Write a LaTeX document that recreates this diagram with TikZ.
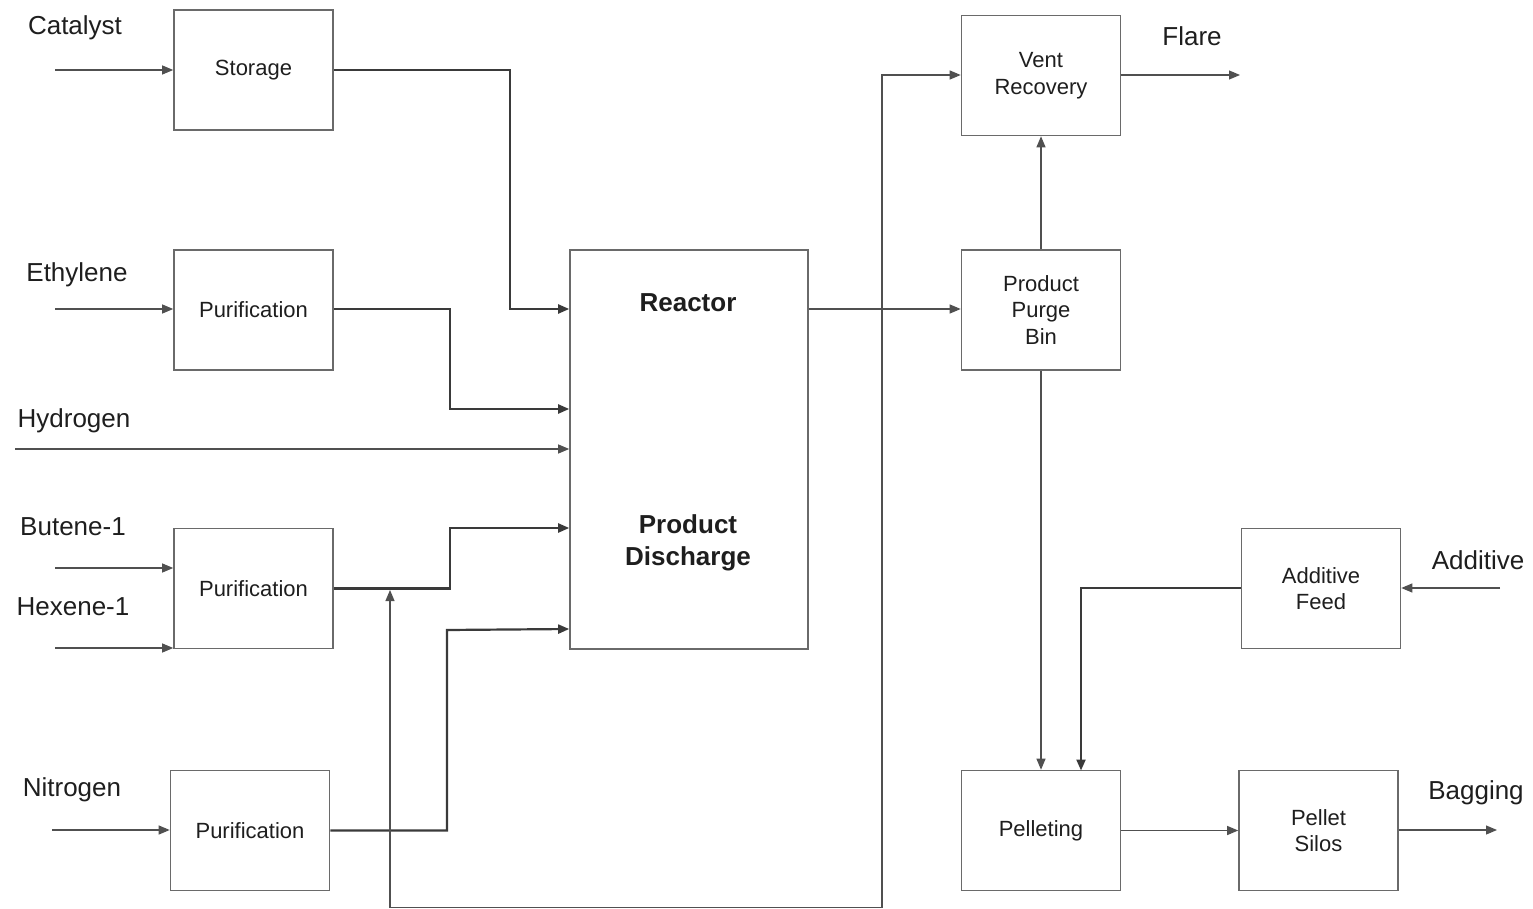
\documentclass[tikz,border=0pt]{standalone}
\usepackage{fontspec}
\setmainfont{Liberation Sans}
\usetikzlibrary{arrows.meta}
\definecolor{boxline}{HTML}{6A6A6A}
\definecolor{wire}{HTML}{505050}
\definecolor{darkwire}{HTML}{3A3A3A}
\definecolor{ink}{HTML}{1E1E1E}
\begin{document}
\begin{tikzpicture}[x=1pt,y=-1pt,
  tip/.tip={Triangle[length=11pt,width=9pt]},
  unit/.style={draw=boxline,line width=1.6pt,minimum width=159pt,minimum height=120pt,inner sep=0pt,align=center,text=ink,font=\fontsize{22}{26.5}\selectfont},
  lbl/.style={text=ink,inner sep=0pt,font=\fontsize{26}{30}\selectfont},
  flow/.style={draw=wire,line width=1.1pt,-tip},
  heavy/.style={flow,draw=darkwire,line width=2.2pt},
  btxt/.style={text=ink,inner sep=0pt,align=center,font=\fontsize{26}{32}\selectfont\bfseries}]
\useasboundingbox (0,0) rectangle (1533,909);
% boxes
\node[unit] (stor) at (253.5,70) {Storage};
\node[unit] (pur1) at (253.5,310) {Purification};
\node[unit] (pur2) at (253.5,588.5) {Purification};
\node[unit] (pur3) at (250,830.5) {Purification};
\node[draw=boxline,line width=1.6pt,minimum width=238pt,minimum height=399pt,inner sep=0pt] (reac) at (689,449.5) {};
\node[btxt] (reactxt) at (688,303) {Reactor};
\node[btxt] (pdtxt) at (688,543) {Product\\Discharge};
\node[unit] (vent) at (1041,75.5) {Vent\\Recovery};
\node[unit] (purge) at (1041,310) {Product\\Purge\\Bin};
\node[unit] (addf) at (1321,588.5) {Additive\\Feed};
\node[unit] (pell) at (1041,830.5) {Pelleting};
\node[unit] (silo) at (1318.5,830.5) {Pellet\\Silos};
% labels
\node[lbl] (lcat) at (75,28) {Catalyst};
\node[lbl] (leth) at (77,275) {Ethylene};
\node[lbl] (lhyd) at (74,421) {Hydrogen};
\node[lbl] (lbut) at (73,527) {Butene-1};
\node[lbl] (lhex) at (73,607) {Hexene-1};
\node[lbl] (lnit) at (72,790) {Nitrogen};
\node[lbl] (lfla) at (1192,36) {Flare};
\node[lbl] (ladd) at (1478,560) {Additive};
\node[lbl] (lbag) at (1476,793) {Bagging};
% free ends
\coordinate (cin) at (55,70);
\coordinate (ein) at (55,309);
\coordinate (hin) at (15,449);
\coordinate (bin) at (55,568);
\coordinate (xin) at (55,648);
\coordinate (nin) at (52,830);
\coordinate (fout) at (1240,75);
\coordinate (ain) at (1500,588);
\coordinate (bout) at (1497,830);
\coordinate (rtip) at (390,590);
% feeds
\draw[flow] (cin) -- (stor.west|-cin);
\draw[flow] (ein) -- (pur1.west|-ein);
\draw[flow] (hin) -- (reac.west|-hin);
\draw[flow] (bin) -- (pur2.west|-bin);
\draw[flow] (xin) -- (pur2.west|-xin);
\draw[flow] (nin) -- (pur3.west|-nin);
% to reactor
\draw[heavy] (stor.east) -- (510,70) -- (510,309) -- (reac.west|-0,309);
\draw[heavy] (pur1.east|-0,309) -- (450,309) -- (450,409) -- (reac.west|-0,409);
\draw[heavy] (pur2.east) -- (450,588.5) -- (450,528) -- (reac.west|-0,528);
\draw[heavy] (pur3.east) -- (447,830.5) -- (447,630) -- (reac.west|-0,629);
% recycle
\draw[flow,tip-tip] (rtip) -- (390,907.5) -- (882,907.5) -- (882,75) -- (vent.west|-0,75);
% right side
\draw[flow] (reac.east|-0,309) -- (purge.west|-0,309);
\draw[flow] (purge.north) -- (vent.south);
\draw[flow] (vent.east|-fout) -- (fout);
\draw[flow] (purge.south) -- (pell.north);
\draw[flow] (ain) -- (addf.east|-ain);
\draw[heavy] (addf.west|-0,588) -- (1081,588) -- (1081,770.5);
\draw[flow] (pell.east) -- (silo.west);
\draw[flow] (silo.east|-bout) -- (bout);
\end{tikzpicture}
\end{document}
